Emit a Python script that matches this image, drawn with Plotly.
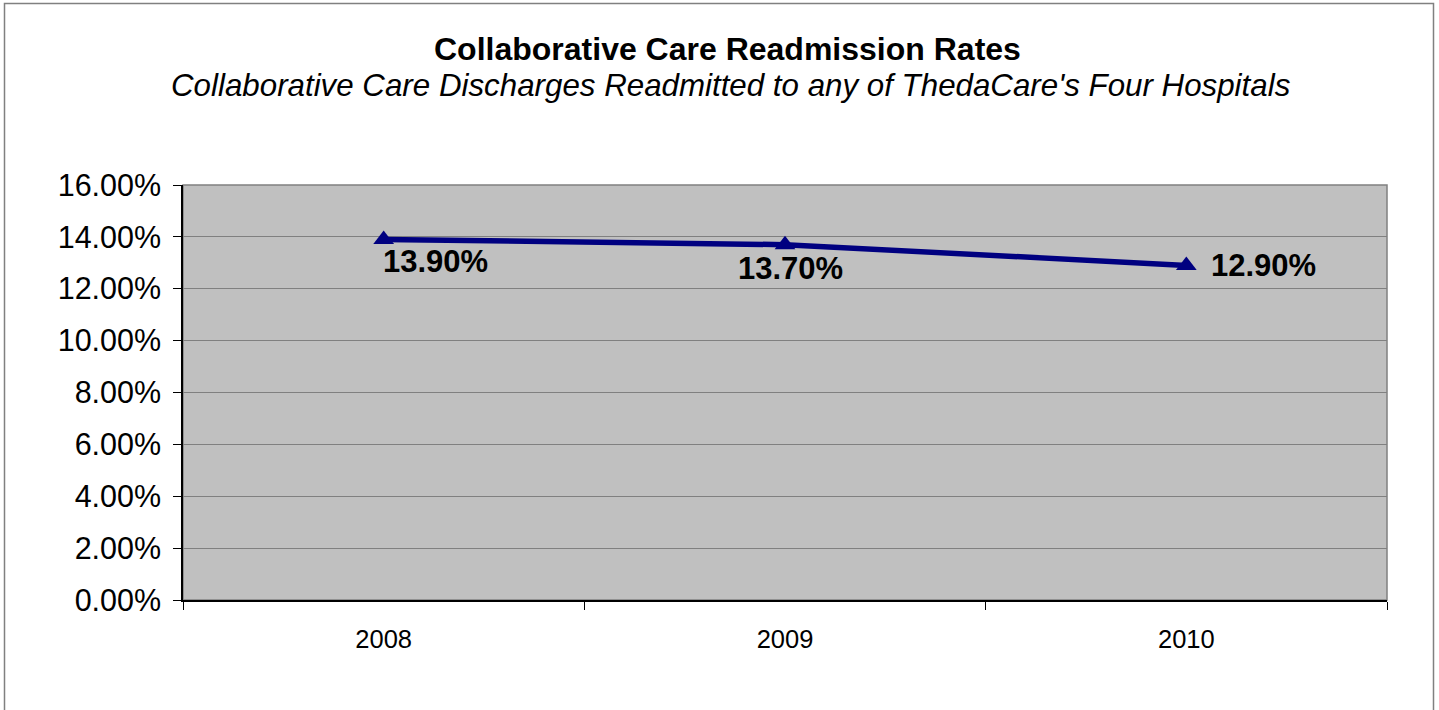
import plotly.graph_objects as go

years = ["2008", "2009", "2010"]
rates = [0.139, 0.137, 0.129]
label_texts = ["13.90%", "13.70%", "12.90%"]
y_ticks = [0.0, 0.02, 0.04, 0.06, 0.08, 0.10, 0.12, 0.14, 0.16]

FONT = "Arial, Liberation Sans, sans-serif"
W, H = 1439, 710
# plot area in page pixels
PL, PR, PT, PB = 183, 1387, 185, 600
L, T = PL, PT
R = W - PR
B = H - PB
PW, PH = W - L - R, H - T - B

def px_x(px):
    return (px - PL) / PW

def px_y(py):
    return (PB - py) / PH

fig = go.Figure()
fig.add_trace(go.Scatter(
    x=years, y=rates, mode="lines+markers",
    line=dict(color="#000080", width=5.5),
    marker=dict(symbol="triangle-up", size=18, color="#000080"),
    hoverinfo="skip", showlegend=False, cliponaxis=False,
))

# data labels
label_anchor = ["left", "center", "left"]
label_xshift = [-3, 5, 23]
label_yshift = [-22, -24, 0]
for i in range(len(years)):
    fig.add_annotation(
        x=i, y=rates[i], text="<b>" + label_texts[i] + "</b>",
        showarrow=False, xanchor=label_anchor[i], yanchor="middle",
        xshift=label_xshift[i], yshift=label_yshift[i],
        font=dict(family=FONT, size=31, color="#000000"),
    )

# titles
fig.add_annotation(
    xref="paper", yref="paper", x=px_x(727), y=px_y(49),
    text="<b>Collaborative Care Readmission Rates</b>", showarrow=False,
    xanchor="center", yanchor="middle",
    font=dict(family=FONT, size=32, color="#000000"),
)
fig.add_annotation(
    xref="paper", yref="paper", x=px_x(730), y=px_y(86),
    text="<i>Collaborative Care Discharges Readmitted to any of ThedaCare's Four Hospitals</i>",
    showarrow=False, xanchor="center", yanchor="middle",
    font=dict(family=FONT, size=31.3, color="#000000"),
)

# plot area border (top/right gray)
fig.add_shape(type="rect", xref="x domain", yref="y domain", x0=0, x1=1, y0=0, y1=1,
              line=dict(color="#808080", width=1.5), layer="below")
# outer chart border
fig.add_shape(type="rect", xref="paper", yref="paper",
              x0=px_x(4.5), x1=px_x(1433.5), y0=px_y(730), y1=px_y(3.5),
              line=dict(color="#808080", width=1.5), layer="below")

fig.update_layout(
    width=W, height=H,
    margin=dict(l=L, r=R, t=T, b=B, pad=0),
    paper_bgcolor="#FFFFFF", plot_bgcolor="#C0C0C0",
    font=dict(family=FONT, color="#000000"),
    showlegend=False,
)
fig.update_xaxes(
    type="category", range=[-0.5, 2.5], tickson="boundaries",
    ticks="outside", ticklen=8, tickcolor="#000000", tickwidth=1,
    showline=True, linecolor="#000000", linewidth=1.5,
    showgrid=False, zeroline=False,
    tickfont=dict(family=FONT, size=25.5, color="#000000"),
    ticklabelstandoff=16,
)
fig.update_yaxes(
    range=[0, 0.16], tickvals=y_ticks, tickformat=".2%",
    ticks="outside", ticklen=8, tickcolor="#000000", tickwidth=1,
    showline=True, linecolor="#000000", linewidth=1.5,
    showgrid=True, gridcolor="#808080", gridwidth=1, zeroline=False,
    tickfont=dict(family=FONT, size=30.5, color="#000000"),
    ticklabelstandoff=6,
)

fig.write_html(
    "out.html",
    config={"displayModeBar": False},
    post_script="document.body.style.margin='0';document.body.style.overflow='hidden';",
)
